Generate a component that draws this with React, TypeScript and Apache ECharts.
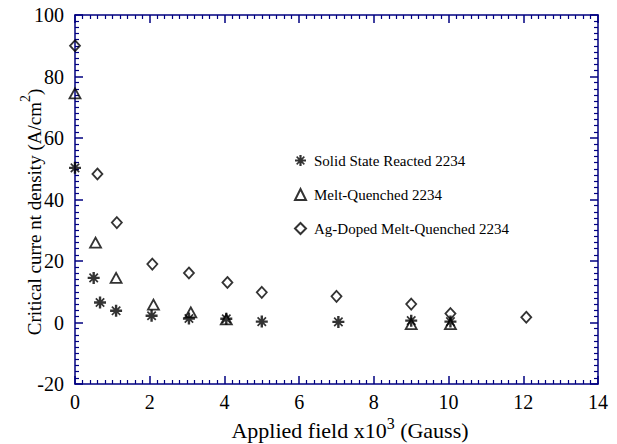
import React, { useEffect, useRef } from "react";
import * as echarts from "echarts";

const solidX = [0, 0.5, 0.67, 1.1, 2.05, 3.05, 4.05, 5.0, 7.05, 9.0, 10.05];
const solidY = [50.3, 14.5, 6.5, 3.8, 2.2, 1.3, 1.2, 0.3, 0.2, 0.6, 0.3];
const meltX = [0, 0.55, 1.1, 2.1, 3.1, 4.05, 9.0, 10.05];
const meltY = [74.5, 26.0, 14.5, 5.8, 3.3, 1.0, -0.5, -0.5];
const agX = [0, 0.6, 1.12, 2.07, 3.05, 4.08, 5.0, 7.0, 9.0, 10.05, 12.08];
const agY = [90.0, 48.3, 32.5, 19.0, 16.1, 13.0, 9.8, 8.5, 6.0, 2.9, 1.7];
const seriesNames = [
  "Solid State Reacted 2234",
  "Melt-Quenched 2234",
  "Ag-Doped Melt-Quenched 2234",
];
const xTitle = "{n|Applied field x10}{s|3}{n| (Gauss)}";
const yTitle = "{n|Critical curre nt density (A/cm}{s|2}{n|)}";

const FONT = "'Liberation Serif', 'DejaVu Serif', serif";
const INK = "#000";
const LINE = "#000080";
const ASTERISK =
  "path://M-1,-5L1,-5L1,5L-1,5Z M-5,-1L5,-1L5,1L-5,1Z M-4,-3L-3,-4L4,3L3,4Z M3,-4L4,-3L-3,4L-4,3Z";

const zip = (xs: number[], ys: number[]) => xs.map((x, i) => [x, ys[i]]);

const mkLine = () => ({ show: true, onZero: false, lineStyle: { color: LINE, width: 1.5 } });
const mkTick = () => ({ show: true, inside: true, length: 8, lineStyle: { color: LINE, width: 1.5 } });
const mkMinor = () => ({ show: true, splitNumber: 10, length: 4, lineStyle: { color: LINE, width: 1.2 } });

const titleRich = (big: number, small: number) => ({
  n: { fontFamily: FONT, fontSize: big, fill: INK, verticalAlign: "bottom", lineHeight: 26 },
  s: { fontFamily: FONT, fontSize: small, fill: INK, verticalAlign: "top", lineHeight: 15 },
});

export default function App() {
  const ref = useRef<HTMLDivElement>(null);
  useEffect(() => {
    if (!ref.current) return;
    const chart = echarts.init(ref.current, undefined, { renderer: "svg" });
    const labelStyle = { color: INK, fontFamily: FONT, fontSize: 20 };
    chart.setOption({
      animation: false,
      backgroundColor: "#fff",
      grid: { left: 75, right: 19, top: 15, bottom: 60 },
      legend: {
        orient: "vertical",
        left: 289,
        top: 148,
        itemWidth: 11,
        itemHeight: 11,
        itemGap: 19,
        data: seriesNames,
        textStyle: { color: INK, fontFamily: FONT, fontSize: 15, padding: [0, 0, 0, 3] },
      },
      graphic: [
        {
          type: "text",
          x: 31,
          y: 212,
          rotation: Math.PI / 2,
          style: { text: yTitle, align: "center", verticalAlign: "middle", rich: titleRich(19, 14) },
        },
        {
          type: "text",
          x: 350,
          y: 428,
          style: { text: xTitle, align: "center", verticalAlign: "middle", rich: titleRich(22, 16) },
        },
      ],
      xAxis: [
        {
          type: "value",
          min: 0,
          max: 14,
          interval: 2,
          position: "bottom",
          axisLine: mkLine(),
          axisTick: mkTick(),
          minorTick: mkMinor(),
          splitLine: { show: false },
          axisLabel: { ...labelStyle, margin: 8 },
        },
        {
          type: "value",
          min: 0,
          max: 14,
          interval: 2,
          position: "top",
          axisLine: mkLine(),
          axisTick: mkTick(),
          minorTick: mkMinor(),
          splitLine: { show: false },
          axisLabel: { show: false },
        },
      ],
      yAxis: [
        {
          type: "value",
          min: -20,
          max: 100,
          interval: 20,
          position: "left",
          axisLine: mkLine(),
          axisTick: mkTick(),
          minorTick: mkMinor(),
          splitLine: { show: false },
          axisLabel: { ...labelStyle, margin: 11 },
        },
        {
          type: "value",
          min: -20,
          max: 100,
          interval: 20,
          position: "right",
          axisLine: mkLine(),
          axisTick: mkTick(),
          minorTick: mkMinor(),
          splitLine: { show: false },
          axisLabel: { show: false },
        },
      ],
      series: [
        {
          name: seriesNames[0],
          type: "scatter",
          xAxisIndex: 0,
          yAxisIndex: 0,
          symbol: ASTERISK,
          symbolSize: 12,
          itemStyle: { color: INK },
          data: zip(solidX, solidY),
        },
        {
          name: seriesNames[1],
          type: "scatter",
          xAxisIndex: 0,
          yAxisIndex: 0,
          symbol: "triangle",
          symbolSize: [11, 10],
          itemStyle: { color: "rgba(255,255,255,0)", borderColor: INK, borderWidth: 1.8 },
          data: zip(meltX, meltY),
        },
        {
          name: seriesNames[2],
          type: "scatter",
          xAxisIndex: 0,
          yAxisIndex: 0,
          symbol: "diamond",
          symbolSize: [10, 11],
          itemStyle: { color: "rgba(255,255,255,0)", borderColor: INK, borderWidth: 1.8 },
          data: zip(agX, agY),
        },
      ],
    });
    return () => chart.dispose();
  }, []);
  return (
    <div
      ref={ref}
      style={{ position: "fixed", left: 0, top: 0, width: 617, height: 444, background: "#fff" }}
    />
  );
}
